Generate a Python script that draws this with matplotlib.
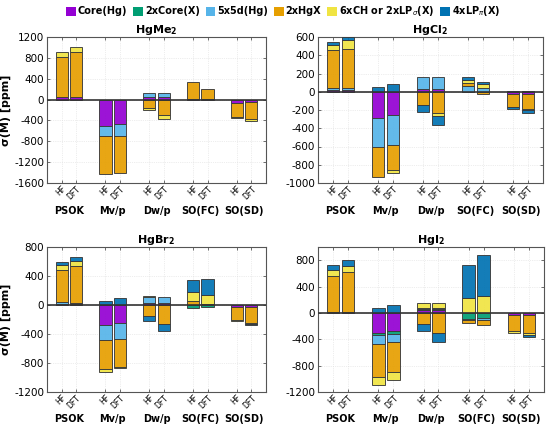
import numpy as np
import matplotlib
matplotlib.use("Agg")
import matplotlib.pyplot as plt
from matplotlib.patches import Patch
from matplotlib.transforms import blended_transform_factory

# ---------------- data ----------------
groups = ["PSOK", "Mv/p", "Dw/p", "SO(FC)", "SO(SD)"]
methods = ["HF", "DFT"]
components = ["Core(Hg)", "2xCore(X)", "5x5d(Hg)", "2xHgX",
              r"6xCH or 2xLP$_\sigma$(X)", r"4xLP$_\pi$(X)"]
colors = ["#9400D3", "#009E73", "#56B4E9", "#E69F00", "#F0E442", "#0072B2"]

# bar order: PSOK HF, PSOK DFT, Mv/p HF, Mv/p DFT, Dw/p HF, Dw/p DFT,
#            SO(FC) HF, SO(FC) DFT, SO(SD) HF, SO(SD) DFT
hgme2_core = [40, 40, -505, -470, 45, 45, 10, 5, -60, -50]
hgme2_corex = [0, 0, 0, 0, 0, 0, 0, 0, 0, 0]
hgme2_d5 = [0, 0, -195, -230, 73, 80, 0, 0, 0, 0]
hgme2_hgx = [770, 865, -730, -710, -155, -300, 325, 200, -270, -330]
hgme2_ch = [95, 95, 0, 0, -50, -70, 0, 0, -30, -40]
hgme2_lppi = [0, 0, 0, 0, 0, 0, 0, 0, 0, 0]

hgcl2_core = [18, 18, -285, -255, 32, 32, 0, 0, -30, -25]
hgcl2_corex = [0, 0, 0, 0, 0, 0, 0, 0, 0, 0]
hgcl2_d5 = [18, 18, -320, -330, 128, 128, 65, 45, 10, 10]
hgcl2_hgx = [420, 428, -330, -275, -148, -237, 28, -25, -140, -165]
hgcl2_ch = [55, 102, 0, -25, 0, -28, 32, 35, 0, -15]
hgcl2_lppi = [37, 29, 50, 82, -77, -103, 33, 28, -20, -25]

hgbr2_core = [20, 20, -270, -250, 30, 30, 0, 0, -30, -25]
hgbr2_corex = [0, 0, 0, 0, 0, 0, -40, -30, 0, 0]
hgbr2_d5 = [20, 12, -215, -220, 75, 82, 0, 0, 0, 0]
hgbr2_hgx = [440, 500, -400, -380, -152, -262, 50, 20, -175, -218]
hgbr2_ch = [75, 80, -45, -15, 18, 0, 130, 115, -20, -15]
hgbr2_lppi = [45, 50, 50, 92, -66, -101, 158, 217, 0, -15]

hgi2_core = [20, 20, -305, -277, 45, 45, 0, 0, -35, -30]
hgi2_corex = [0, 0, -35, -40, 10, 10, -95, -75, 0, 0]
hgi2_d5 = [0, 0, -130, -120, 15, 15, -20, -35, 0, 0]
hgi2_hgx = [545, 605, -495, -460, -170, -300, -35, -75, -235, -270]
hgi2_ch = [85, 92, -125, -125, 85, 85, 230, 260, -30, -40]
hgi2_lppi = [80, 93, 75, 118, -105, -140, 500, 625, 0, -20]

titles = [r"HgMe$_\mathbf{2}$", r"HgCl$_\mathbf{2}$", r"HgBr$_\mathbf{2}$", r"HgI$_\mathbf{2}$"]
ylims = [(-1600, 1200), (-1000, 600), (-1200, 800), (-1200, 1000)]
yticks = [np.arange(-1600, 1201, 400), np.arange(-1000, 601, 200),
          np.arange(-1200, 801, 400), np.arange(-1200, 801, 400)]

panel_data = [
    [hgme2_core, hgme2_corex, hgme2_d5, hgme2_hgx, hgme2_ch, hgme2_lppi],
    [hgcl2_core, hgcl2_corex, hgcl2_d5, hgcl2_hgx, hgcl2_ch, hgcl2_lppi],
    [hgbr2_core, hgbr2_corex, hgbr2_d5, hgbr2_hgx, hgbr2_ch, hgbr2_lppi],
    [hgi2_core, hgi2_corex, hgi2_d5, hgi2_hgx, hgi2_ch, hgi2_lppi],
]

# ---------------- layout ----------------
W, H = 550, 426
fig = plt.figure(figsize=(W / 100, H / 100), dpi=100)

def rect(x0, x1, ytop, ybot):
    return [x0 / W, 1 - ybot / H, (x1 - x0) / W, (ybot - ytop) / H]

rects = [rect(47, 266, 37, 183), rect(318, 543, 37, 183),
         rect(47, 266, 247, 392), rect(318, 544, 247, 392)]

offset = 0.165
width = 0.28
gpos = np.arange(1, len(groups) + 1)
xpos = np.ravel(np.column_stack([gpos - offset, gpos + offset]))
xlabels = methods * len(groups)

for k in range(4):
    ax = fig.add_axes(rects[k])
    vals = np.array(panel_data[k], dtype=float)
    posb = np.zeros(len(xpos))
    negb = np.zeros(len(xpos))
    for c in range(len(components)):
        v = vals[c]
        bottom = np.where(v >= 0, posb, negb)
        mask = v != 0
        ax.bar(xpos[mask], v[mask], width=width, bottom=bottom[mask],
               color=colors[c], edgecolor="#3a3a3a", linewidth=0.7,
               alpha=0.92, zorder=3)
        posb = posb + np.where(v > 0, v, 0)
        negb = negb + np.where(v < 0, v, 0)
    ax.axhline(0, color="#333333", lw=1.2, zorder=4)
    ax.set_xlim(0.5, len(groups) + 0.5)
    ax.set_ylim(*ylims[k])
    ax.set_yticks(yticks[k])
    ax.set_yticklabels([str(int(t)) for t in yticks[k]], fontsize=7.5)
    ax.set_xticks(xpos)
    ax.set_xticklabels(xlabels, rotation=45, fontsize=5.5, ha="right",
                       va="top", rotation_mode="anchor")
    ax.tick_params(axis="both", direction="in", top=True, right=True,
                   length=2.5, width=0.6, color="#555555", pad=2)
    ax.tick_params(axis="x", pad=1.0)
    ax.grid(True, color="#dcdcdc", lw=0.5, ls=":", zorder=0)
    for s in ax.spines.values():
        s.set_color("#555555")
        s.set_linewidth(0.8)
    ax.set_title(titles[k], fontsize=8, fontweight="bold", pad=3)
    trans = blended_transform_factory(ax.transData, ax.transAxes)
    for g, name in zip(gpos, groups):
        ax.text(g, -0.155, name, transform=trans, ha="center", va="top",
                fontsize=7, fontweight="bold")
    if k in (0, 2):
        ax.set_ylabel("σ(M) [ppm]", fontsize=8, fontweight="bold", labelpad=2)

handles = [Patch(facecolor=col, edgecolor="none", label=lab)
           for col, lab in zip(colors, components)]
fig.legend(handles=handles, loc="upper center", bbox_to_anchor=(0.515, 1.01),
           ncol=6, frameon=False, handlelength=1.0,
           handleheight=1.0, handletextpad=0.2, columnspacing=0.6,
           prop={"weight": "bold", "size": 7})

fig.savefig("out.png", dpi=100)
